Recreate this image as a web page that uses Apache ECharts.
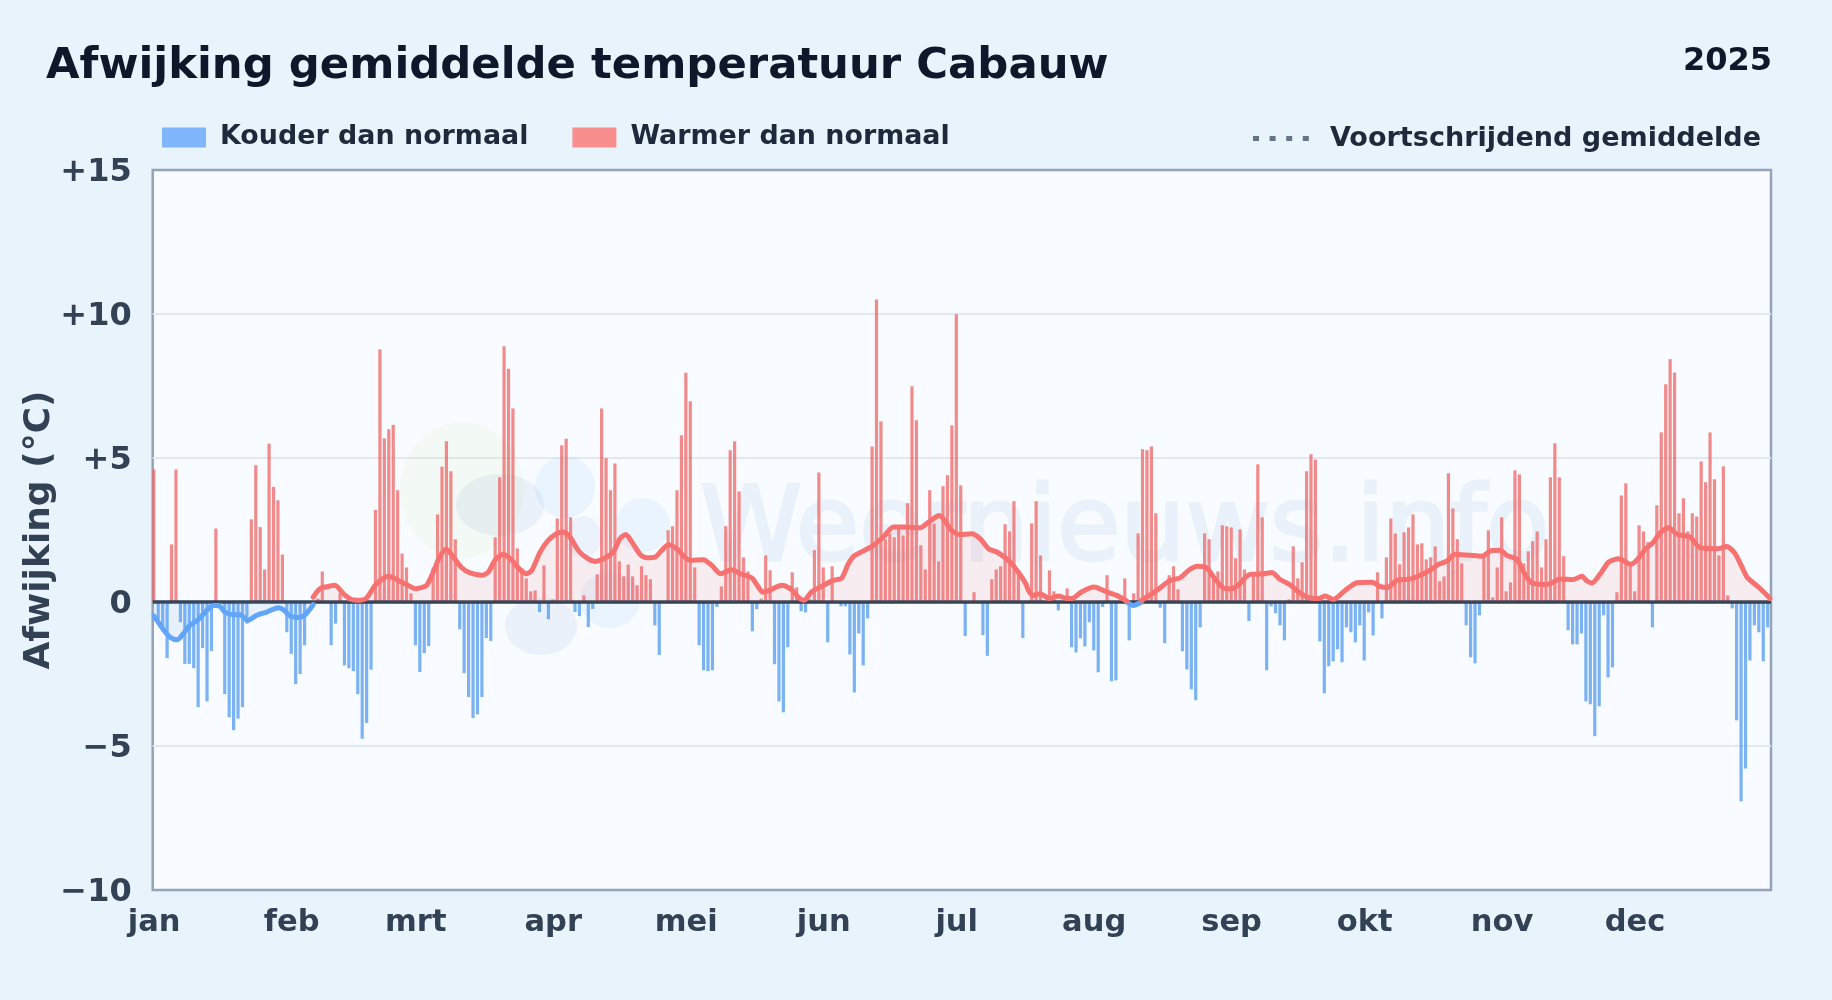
<!DOCTYPE html>
<html><head><meta charset="utf-8"><title>Afwijking gemiddelde temperatuur Cabauw</title>
<style>html,body{margin:0;padding:0;background:#e9f3fc}#c{width:1832px;height:1000px}</style>
<script src="https://cdn.jsdelivr.net/npm/echarts@6/dist/echarts.min.js"></script></head>
<body><div id="c"></div>
<script>
const monthLabels = ['jan','feb','mrt','apr','mei','jun','jul','aug','sep','okt','nov','dec'];
const monthStarts = [0,31,59,90,120,151,181,212,243,273,304,334];
const yTicks = ['+15','+10','+5','0','\u22125','\u221210'];
const dailyDeviation = [
4.6,-0.6,-1.0,-1.95,2.0,4.6,-0.7,-2.15,-2.15,-2.3,
-3.65,-1.6,-3.45,-1.7,2.55,0,-3.2,-4.0,-4.45,-4.05,
-3.65,-0.75,2.87,4.75,2.6,1.13,5.5,4.0,3.53,1.65,
-1.05,-1.8,-2.85,-2.5,-1.5,0,0,0.12,1.06,0,
-1.5,-0.75,0.3,-2.2,-2.3,-2.4,-3.2,-4.75,-4.2,-2.35,
3.2,8.77,5.68,6.0,6.15,3.88,1.68,1.2,0.3,-1.5,
-2.43,-1.77,-1.53,1.2,3.04,4.7,5.58,4.54,2.18,-0.95,
-2.47,-3.3,-4.03,-3.9,-3.3,-1.25,-1.35,2.25,4.33,8.88,
8.1,6.72,1.86,1.16,0.82,0.37,0.4,-0.35,1.27,-0.6,
0.09,2.9,5.44,5.67,2.94,-0.35,-0.49,0.23,-0.87,-0.24,
0.96,6.72,5.0,3.88,4.81,1.41,0.89,1.3,0.89,0.58,
1.24,0.93,0.79,-0.81,-1.84,0,2.49,2.63,3.88,5.79,
7.96,6.97,1.2,-1.5,-2.37,-2.4,-2.37,-0.17,0.54,2.63,
5.27,5.58,3.84,1.55,1.06,-1.02,-0.25,0.12,1.62,1.1,
-2.16,-3.45,-3.83,-1.57,1.03,0.51,-0.32,-0.36,0.1,1.8,
4.5,1.2,-1.4,1.24,0,-0.15,-0.15,-1.82,-3.14,-1.09,
-2.2,-0.57,5.4,10.5,6.27,2.18,2.38,2.25,2.55,2.31,
3.43,7.49,6.31,1.97,1.13,3.88,2.72,1.41,4.02,4.4,
6.13,9.99,4.05,-1.18,0,0.34,0,-1.15,-1.87,0.79,
1.13,1.24,2.7,2.45,3.5,1.06,-1.25,0,2.73,3.5,
1.62,0,1.1,0.37,-0.29,0,0.47,-1.57,-1.75,-1.26,
-1.54,-0.7,-1.68,-2.44,-0.17,0.93,-2.75,-2.72,0,0.82,
-1.33,0.3,2.38,5.3,5.27,5.4,3.08,-0.2,-1.43,0.93,
1.24,0.44,-1.71,-2.34,-3.03,-3.41,-0.88,2.38,2.18,0.9,
1.06,2.66,2.63,2.59,1.52,2.52,1.13,-0.66,0.98,4.78,
2.94,-2.37,-0.15,-0.39,-0.81,-1.33,0.09,1.93,0.82,1.38,
4.54,5.13,4.95,-1.37,-3.17,-2.23,-2.06,-1.64,-2.09,-0.88,
-1.05,-1.4,-0.81,-2.03,-0.36,-1.16,1.03,-0.57,1.55,2.9,
2.38,1.31,2.42,2.59,3.04,2.0,2.04,1.48,1.55,1.93,
0.72,0.89,4.47,3.25,2.18,1.34,-0.81,-1.92,-2.13,-0.46,
1.62,2.49,0.16,1.2,2.94,0.37,0.68,4.57,4.43,1.34,
1.76,2.11,2.45,1.2,2.18,4.33,5.51,4.33,1.59,-0.98,
-1.47,-1.47,-1.09,-3.45,-3.55,-4.66,-3.62,-0.46,-2.62,-2.27,
0.34,3.7,4.12,1.31,0.37,2.66,2.45,2.08,-0.88,3.36,
5.89,7.56,8.43,7.97,3.08,3.6,2.45,3.08,2.97,4.88,
4.16,5.89,4.26,1.62,4.71,0.23,-0.22,-4.11,-6.92,-5.78,
-2.03,-0.81,-1.05,-2.06,-0.88];

const coldMean = [[0.3,-0.49],[2.3,-0.93],[3.9,-1.22],[5.6,-1.31],[6.9,-1.10],[8.4,-0.81],[10.3,-0.61],[12.2,-0.29],[13.7,-0.12],[14.8,-0.12],[16.3,-0.35],[18.2,-0.44],[19.7,-0.44],[21.4,-0.64],[23.5,-0.46],[25.7,-0.35],[28.3,-0.20],[29.5,-0.27],[31,-0.49],[32.9,-0.54],[34.4,-0.44],[36.2,-0.09],[36.4,null],[219.7,0],[221.2,-0.12],[223,0]];
const warmMean = [[36.2,0.17],[37.7,0.46],[39.6,0.54],[41.1,0.58],[43,0.29],[44.9,0.08],[46.8,0.06],[48.3,0.15],[50.5,0.64],[53.2,0.89],[55.4,0.75],[57.3,0.6],[59.2,0.46],[60.3,0.49],[61.8,0.58],[63.5,1.12],[64.7,1.56],[66.2,1.83],[67.8,1.56],[69.7,1.19],[71.6,1.01],[74.2,0.93],[75.7,1.04],[77.2,1.45],[79.1,1.66],[81,1.45],[82.8,1.13],[84.3,0.98],[85.5,1.1],[87.4,1.74],[89.2,2.14],[91.1,2.37],[92.6,2.43],[94.1,2.26],[96,1.79],[97.9,1.53],[99.8,1.41],[101.7,1.5],[103.9,1.74],[105.4,2.2],[106.7,2.34],[108.1,2.08],[110,1.64],[111.4,1.54],[113.3,1.56],[114.8,1.79],[116.3,1.99],[118.2,1.85],[120,1.56],[121.2,1.45],[124.2,1.47],[126.1,1.27],[128.1,0.98],[130.6,1.12],[132.5,0.98],[135.1,0.84],[136.6,0.52],[137.6,0.34],[139.2,0.41],[141.9,0.58],[144.1,0.43],[145.6,0.17],[146.9,0.06],[148.6,0.35],[151.3,0.58],[153.5,0.75],[155.4,0.83],[156.9,1.33],[158.4,1.62],[162.2,1.93],[164.8,2.26],[167.1,2.6],[169.3,2.6],[173.1,2.58],[175.3,2.81],[177.4,3.0],[180.2,2.49],[182.1,2.34],[184.7,2.37],[186.6,2.2],[188.5,1.85],[190.7,1.71],[193.4,1.39],[195.2,1.04],[196.9,0.64],[197.5,0.41],[198.5,0.23],[200.1,0.29],[202.3,0.12],[204.3,0.21],[206.2,0.12],[207.3,0.12],[209.5,0.35],[212.3,0.52],[215.2,0.35],[217.4,0.23],[219.7,0.03],[220,null],[223,0.06],[226,0.35],[229.5,0.75],[231.7,0.84],[233.8,1.12],[235.6,1.24],[237.7,1.19],[239.6,0.8],[241.5,0.49],[243,0.46],[244.5,0.54],[247.5,0.96],[250.5,0.98],[252.4,1.02],[254.3,0.78],[256.5,0.6],[258.4,0.35],[260.7,0.15],[263,0.12],[264.4,0.21],[266.3,0.09],[269,0.41],[271.6,0.67],[275,0.69],[276.8,0.54],[278.5,0.5],[280.6,0.75],[284,0.81],[288.1,1.1],[290,1.31],[291.9,1.42],[293.7,1.66],[297.1,1.62],[299.8,1.59],[302,1.79],[303.9,1.8],[305.4,1.62],[307.7,1.48],[309.2,1.04],[311,0.67],[313.7,0.61],[315.2,0.64],[317.4,0.8],[320.4,0.78],[322.3,0.89],[323.5,0.73],[324.6,0.66],[326.5,0.98],[328.4,1.39],[330.6,1.5],[333.4,1.31],[334.7,1.45],[336.6,1.82],[338.5,2.08],[340,2.4],[342,2.58],[343.8,2.35],[346.7,2.26],[349,1.89],[353.1,1.85],[355,1.93],[356.9,1.68],[358.8,1.1],[359.7,0.84],[362.6,0.46],[364.8,0.12]];

const names = {cold:'Kouder dan normaal', warm:'Warmer dan normaal', mean:'Voortschrijdend gemiddelde'};
const barShift = 0.25;
const coldBars = [], warmBars = [];
dailyDeviation.forEach((v,i)=>{ if(v<0) coldBars.push([i+barShift,v]); else if(v>0) warmBars.push([i+barShift,v]); });
const F = '"DejaVu Sans"';
const blob = (cx,cy,rx,ry,fill)=>({type:'ellipse',z:1,silent:true,shape:{cx,cy,rx,ry},style:{fill}});
const chart = echarts.init(document.getElementById('c'),null,{renderer:'canvas'});
chart.setOption({
  animation:false,
  backgroundColor:'#e9f3fc',
  title:[
    {text:'Afwijking gemiddelde temperatuur Cabauw',left:41,top:40,textStyle:{fontFamily:F,fontWeight:'bold',fontSize:43.35,color:'#0f172a'}},
    {text:'2025',right:55,top:41,textStyle:{fontFamily:F,fontWeight:'bold',fontSize:32,color:'#0f172a'}}
  ],
  legend:[
    {left:157,top:119,itemWidth:44,itemHeight:20,itemGap:44,selectedMode:false,
     data:[{name:names.cold,icon:'rect',itemStyle:{color:'#80b6fb'}},{name:names.warm,icon:'rect',itemStyle:{color:'#f98e8e'}}],
     textStyle:{fontFamily:F,fontWeight:'bold',fontSize:26.9,color:'#1e293b',padding:[3,0,0,9]}},
    {right:66,top:120,itemWidth:56,itemHeight:5,selectedMode:false,
     data:[{name:names.mean,icon:'path://M0 0h6v5H0z M16.6 0h6v5h-6z M33.2 0h6v5h-6z M49.8 0h6v5h-6z',itemStyle:{color:'#64748b'}}],
     textStyle:{fontFamily:F,fontWeight:'bold',fontSize:27.05,color:'#1e293b',padding:[0,0,0,16]}}
  ],
  grid:{left:152.7,top:170,width:1618.3,height:720,show:true,backgroundColor:'#f8fbff',borderColor:'#94a3b8',borderWidth:2.5,containLabel:false},
  graphic:[
    {type:'text',z:1,silent:true,style:{text:'Weernieuws.info',x:700,y:533,fontFamily:F,fontWeight:'normal',fontSize:103,fill:'#e9f1fa',stroke:'#e9f1fa',lineWidth:3,verticalAlign:'middle'}},
    blob(462,490,62,68,'rgba(200,230,140,0.09)'),
    blob(500,505,44,31,'rgba(100,140,200,0.09)'),
    blob(565,487,30,31,'rgba(120,190,250,0.11)'),
    blob(643,525,27,27,'rgba(120,190,250,0.11)'),
    blob(583,537,18,21,'rgba(100,140,200,0.08)'),
    blob(541,626,36,29,'rgba(100,140,200,0.09)'),
    blob(610,600,30,28,'rgba(120,190,250,0.11)')
  ],
  xAxis:{type:'value',min:0,max:365,splitLine:{show:false},axisLine:{show:false},axisTick:{show:false},
    axisLabel:{customValues:monthStarts,margin:18,fontFamily:F,fontWeight:'bold',fontSize:30.5,color:'#334155',padding:[0,0,0,3],
      showMinLabel:true,showMaxLabel:true,hideOverlap:false,
      formatter:v=>monthLabels[monthStarts.indexOf(v)]||''}},
  yAxis:{type:'value',min:-10,max:15,interval:5,axisLine:{show:false},axisTick:{show:false},
    splitLine:{showMinLine:false,showMaxLine:false,lineStyle:{color:'#e2e8f0',width:2}},
    name:'Afwijking (\u00b0C)',nameLocation:'middle',nameGap:95,nameRotate:90,nameMoveOverlap:false,
    nameTextStyle:{fontFamily:F,fontWeight:'bold',fontSize:36,color:'#334155'},
    axisLabel:{margin:21,fontFamily:F,fontWeight:'bold',fontSize:32,color:'#334155',verticalAlign:'top',lineHeight:5,
      formatter:v=>yTicks[(15-v)/5]}},
  series:[
    {name:names.cold,type:'bar',barWidth:3.2,barGap:'-100%',data:coldBars,itemStyle:{color:'rgba(90,160,240,0.8)'},z:2},
    {name:names.warm,type:'bar',barWidth:3.2,barGap:'-100%',data:warmBars,itemStyle:{color:'rgba(239,100,100,0.75)'},z:2,
     markLine:{silent:true,symbol:'none',animation:false,label:{show:false},lineStyle:{color:'#334155',width:3.5,type:'solid'},data:[{yAxis:0}],z:3}},
    {name:'warmMeanLine',type:'line',data:warmMean,smooth:0.25,connectNulls:false,showSymbol:false,symbol:'none',z:5,
     lineStyle:{color:'#f87171',width:5,opacity:1,cap:'round',join:'round'},areaStyle:{color:'rgba(248,113,113,0.15)'}},
    {name:'coldMeanLine',type:'line',data:coldMean,smooth:0.25,connectNulls:false,showSymbol:false,symbol:'none',z:4,
     lineStyle:{color:'#60a5fa',width:5,cap:'round',join:'round'},areaStyle:{color:'rgba(96,165,250,0.15)'}},
    {name:names.mean,type:'line',data:[],symbol:'none',lineStyle:{color:'#64748b',type:'dotted'},itemStyle:{color:'#64748b'}}
  ]
});
</script></body></html>
